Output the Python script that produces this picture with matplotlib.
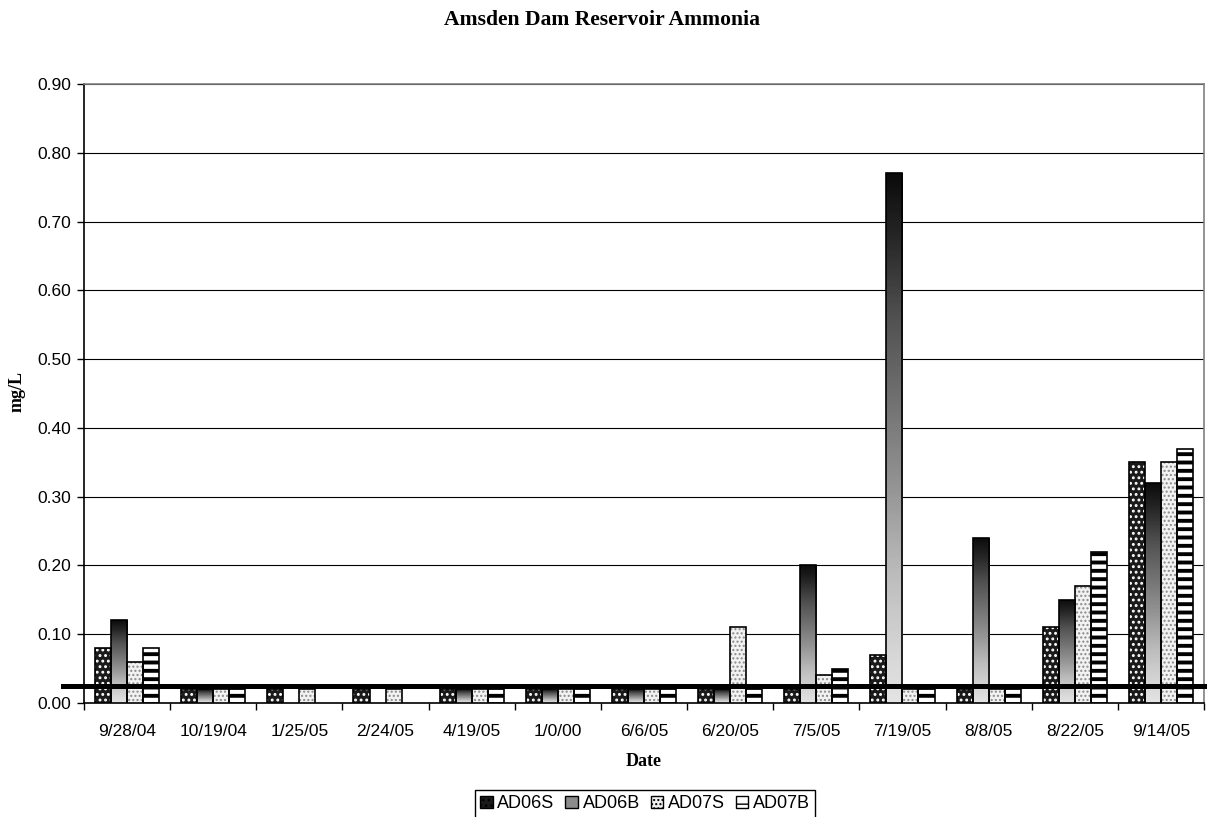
import numpy as np
import matplotlib
matplotlib.use("Agg")
import matplotlib.pyplot as plt
from matplotlib.patches import Patch

# ──────────── Datos ────────────
fechas = ["9/28/04", "10/19/04", "1/25/05", "2/24/05", "4/19/05", "1/0/00", "6/6/05",
          "6/20/05", "7/5/05", "7/19/05", "8/8/05", "8/22/05", "9/14/05"]
nan = np.nan
ad06s = [0.08, 0.02, 0.02, 0.02, 0.02, 0.02, 0.02, 0.02, 0.02, 0.07, 0.02, 0.11, 0.35]
ad06b = [0.12, 0.02, nan, nan, 0.02, 0.02, 0.02, 0.02, 0.20, 0.77, 0.24, 0.15, 0.32]
ad07s = [0.06, 0.02, 0.02, 0.02, 0.02, 0.02, 0.02, 0.11, 0.04, 0.02, 0.02, 0.17, 0.35]
ad07b = [0.08, 0.02, nan, nan, 0.02, 0.02, 0.02, 0.02, 0.05, 0.02, 0.02, 0.22, 0.37]
series = ["AD06S", "AD06B", "AD07S", "AD07B"]
linea_ref = 0.025

serif = "Liberation Serif"
sans = "Liberation Sans"

# ──────────── Figura ────────────
fig = plt.figure(figsize=(12.07, 8.17), dpi=100)
ax = fig.add_axes([84/1207, 1-703/817, 1120/1207, 619/817])

x = np.arange(len(fechas))
w = 0.186
offs = np.array([-1.5, -0.5, 0.5, 1.5]) * w

# AD06S: negro con puntos blancos
plt.rcParams['hatch.linewidth'] = 1.0
b = ax.bar(x + offs[0], ad06s, w, color='#1a1a1a', edgecolor='white', hatch='...', linewidth=0, zorder=3)
for p in b:
    if hasattr(p, 'set_hatch_linewidth'):
        p.set_hatch_linewidth(1.3)
ax.bar(x + offs[0], ad06s, w, facecolor='none', edgecolor='black', linewidth=1.2, zorder=4)

# AD06B: degradado
grad = np.linspace(0, 1, 256).reshape(-1, 1)
for xi, v in zip(x + offs[1], ad06b):
    if np.isnan(v):
        continue
    bb = ax.bar(xi, v, w, facecolor='none', edgecolor='black', linewidth=1.2, zorder=4)[0]
    im = ax.imshow(grad, cmap='Greys', vmin=-0.25, vmax=1.05, extent=(xi - w/2, xi + w/2, 0, v),
                   aspect='auto', origin='lower', zorder=3)
    im.set_clip_path(bb)

# AD07S: claro con puntos grises
b = ax.bar(x + offs[2], ad07s, w, color='#f2f2f2', edgecolor='#8a8a8a', hatch='....', linewidth=0, zorder=3)
for p in b:
    if hasattr(p, 'set_hatch_linewidth'):
        p.set_hatch_linewidth(1.0)
ax.bar(x + offs[2], ad07s, w, facecolor='none', edgecolor='black', linewidth=1.2, zorder=4)

# AD07B: rayas horizontales
b = ax.bar(x + offs[3], ad07b, w, color='white', edgecolor='black', hatch='--', linewidth=0, zorder=3)
for p in b:
    if hasattr(p, 'set_hatch_linewidth'):
        p.set_hatch_linewidth(2.8)
ax.bar(x + offs[3], ad07b, w, facecolor='none', edgecolor='black', linewidth=1.2, zorder=4)

# Línea de referencia
ax.axhline(linea_ref, xmin=-0.019, xmax=1.01, color='black', linewidth=3.6, zorder=5, clip_on=False)

# ──────────── Ejes ────────────
ax.set_xlim(-0.5, len(fechas) - 0.5)
ax.set_ylim(0, 0.9)
ax.set_yticks(np.arange(0, 0.91, 0.1))
ax.set_yticklabels([f"{t:.2f}" for t in np.arange(0, 0.91, 0.1)], fontfamily=sans, fontsize=12.5)
ax.set_xticks(x)
ax.set_xticklabels(fechas, fontfamily=sans, fontsize=12.5)
ax.set_xticks(np.arange(-0.5, len(fechas)), minor=True)
ax.tick_params(axis='x', which='major', length=0, pad=15)
ax.tick_params(axis='x', which='minor', length=5, width=1, color='black', direction='out')
ax.tick_params(axis='y', length=5, width=1, direction='out', pad=4)
ax.yaxis.grid(True, color='black', linewidth=0.8, zorder=1)
ax.set_axisbelow(True)
for s in ['top', 'right']:
    ax.spines[s].set_color('#808080')
    ax.spines[s].set_linewidth(1.2)
for s in ['left', 'bottom']:
    ax.spines[s].set_color('black')
    ax.spines[s].set_linewidth(1.2)

fig.text(602/1207, 1 - 20/817, "Amsden Dam Reservoir Ammonia", ha='center', va='center',
         fontfamily=serif, fontweight='bold', fontsize=15.6)
fig.text(644/1207, 1 - 761/817, "Date", ha='center', va='center',
         fontfamily=serif, fontweight='bold', fontsize=13)
fig.text(17/1207, 1 - 392/817, "mg/L", ha='center', va='center', rotation=90,
         fontfamily=serif, fontweight='bold', fontsize=13)

# Leyenda
handles = [
    Patch(facecolor='#1a1a1a', edgecolor='black', hatch='...'),
    Patch(facecolor='#8c8c8c', edgecolor='black'),
    Patch(facecolor='#f2f2f2', edgecolor='black', hatch='....'),
    Patch(facecolor='white', edgecolor='black', hatch='--'),
]
leg = fig.legend(handles, series, loc='upper center', bbox_to_anchor=(645/1207, 1 - 790/817),
                 ncol=4, frameon=True, fancybox=False, edgecolor='black', framealpha=1,
                 prop={'family': sans, 'size': 13}, handlelength=0.7, handleheight=0.7,
                 handletextpad=0.25, columnspacing=0.6, borderpad=0.3, borderaxespad=0)
leg.get_frame().set_linewidth(1.0)

fig.savefig("out.png", dpi=100)
